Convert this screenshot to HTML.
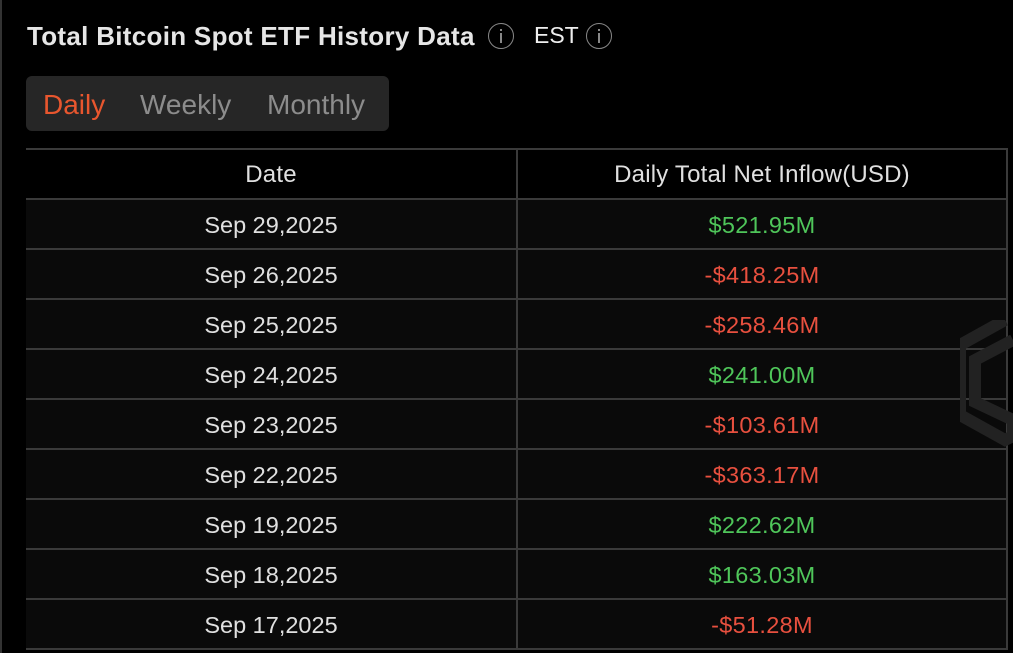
<!DOCTYPE html>
<html style="overflow:hidden;height:653px"><head><style>
body{margin:0;width:1013px;height:653px;background:#000;font-family:"Liberation Sans",sans-serif;overflow:hidden;position:relative;color:#ddd}
.lb{position:absolute;left:0;top:0;width:2px;height:653px;background:#333}
.title{position:absolute;left:27px;top:21px;font-size:26px;font-weight:bold;color:#e6e6e6;letter-spacing:0.3px;white-space:nowrap}
.ic{position:absolute;top:23px;width:26px;height:26px;border:1.5px solid #888;border-radius:50%;box-sizing:border-box}
.ic:after{content:"";position:absolute;left:10.5px;top:9px;width:2px;height:10px;background:#888}
.ic:before{content:"";position:absolute;left:10.5px;top:5px;width:2px;height:2px;background:#888}
.est{position:absolute;left:534px;top:22px;font-size:23px;color:#eee}
.tabs{position:absolute;left:26px;top:76px;width:363px;height:55px;background:#262626;border-radius:6px;font-size:28px;color:#8c8c8c}
.tabs span{position:absolute;top:13px}
.tb{position:absolute;left:26px;top:148px;width:982px}
.row{height:48px;border-top:2px solid #3a3a3a;background:#0a0a0a;display:flex;font-size:23.5px;line-height:50px;color:#e0e0e0}
.row div{text-align:center;height:48px}
.c1{width:490px;border-right:2px solid #3a3a3a}
.c2{width:488px;border-right:2px solid #3a3a3a}
.h{background:#000;font-size:24px;letter-spacing:0.2px}
.g{color:#4fc65a!important;letter-spacing:0.3px}.r{color:#e8503f!important;letter-spacing:0.3px}
</style></head><body>
<div class="lb"></div>
<div class="title">Total Bitcoin Spot ETF History Data</div>
<span class="ic" style="left:488px"></span><span class="est">EST</span><span class="ic" style="left:586px"></span>
<div class="tabs"><span style="left:17px;color:#e8562e">Daily</span><span style="left:114px">Weekly</span><span style="left:241px">Monthly</span></div>
<div class="tb">
<div class="row h"><div class="c1">Date</div><div class="c2">Daily Total Net Inflow(USD)</div></div>
<div class="row"><div class="c1">Sep 29,2025</div><div class="c2 g">$521.95M</div></div>
<div class="row"><div class="c1">Sep 26,2025</div><div class="c2 r">-$418.25M</div></div>
<div class="row"><div class="c1">Sep 25,2025</div><div class="c2 r">-$258.46M</div></div>
<div class="row"><div class="c1">Sep 24,2025</div><div class="c2 g">$241.00M</div></div>
<div class="row"><div class="c1">Sep 23,2025</div><div class="c2 r">-$103.61M</div></div>
<div class="row"><div class="c1">Sep 22,2025</div><div class="c2 r">-$363.17M</div></div>
<div class="row"><div class="c1">Sep 19,2025</div><div class="c2 g">$222.62M</div></div>
<div class="row"><div class="c1">Sep 18,2025</div><div class="c2 g">$163.03M</div></div>
<div class="row"><div class="c1">Sep 17,2025</div><div class="c2 r">-$51.28M</div></div>
</div>
<div style="position:absolute;left:26px;top:648px;width:982px;height:2px;background:#3a3a3a"></div>
<svg style="position:absolute;left:960px;top:320px" width="53" height="130"><path d="M45 0 L0 25 L0 95 L45 120 L53 116 L53 100 L15 82 L15 40 L53 20" fill="none" stroke="#222" stroke-width="12"/></svg>
</body></html>
